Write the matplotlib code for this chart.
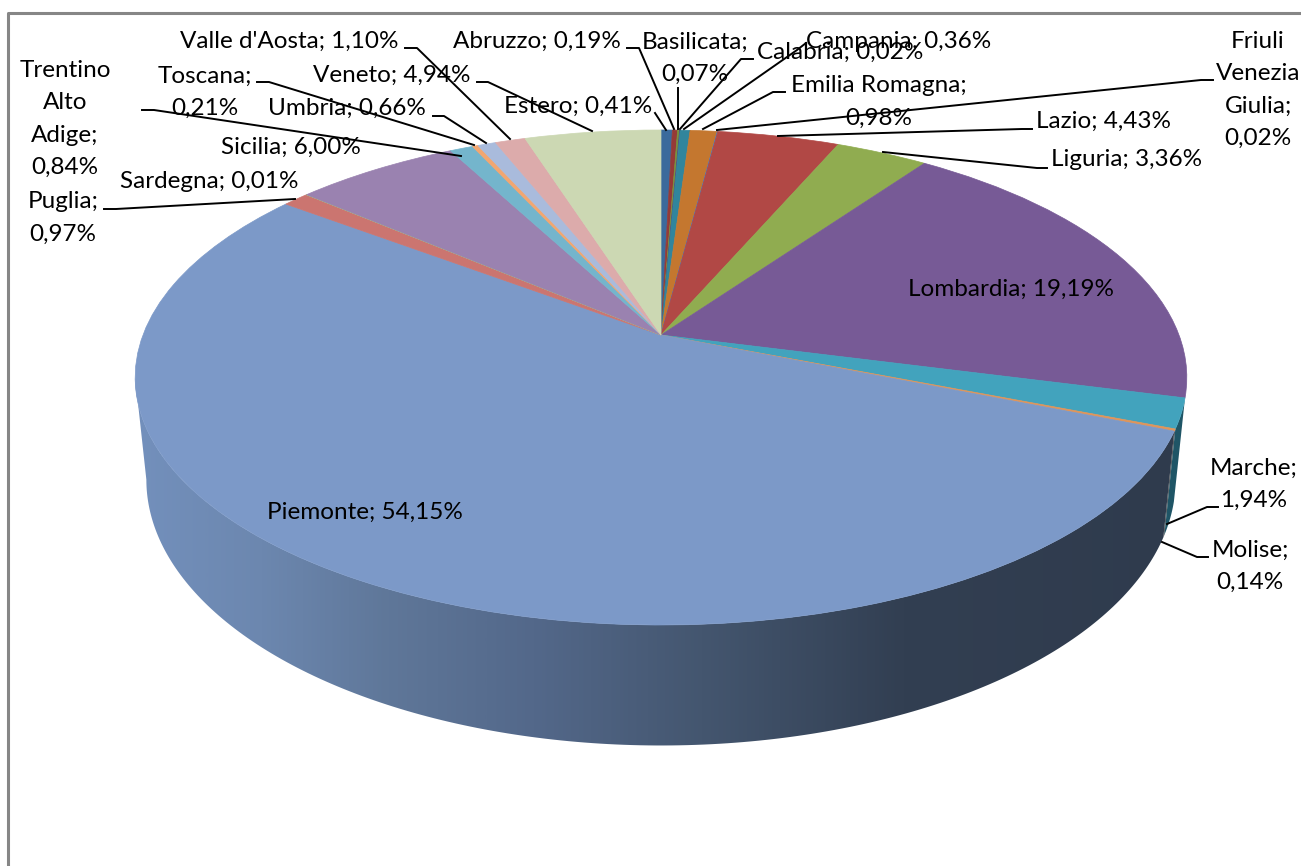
import numpy as np
from matplotlib import pyplot as plt
from matplotlib.colors import LinearSegmentedColormap
from matplotlib.patches import Polygon
from matplotlib.transforms import Transform

plt.rcParams['font.family'] = ['Lato', 'DejaVu Sans']

regions = ['Estero', 'Abruzzo', 'Basilicata', 'Calabria', 'Campania', 'Emilia Romagna',
           'Friuli Venezia Giulia', 'Lazio', 'Liguria', 'Lombardia', 'Marche', 'Molise',
           'Piemonte', 'Puglia', 'Sardegna', 'Sicilia', 'Trentino Alto Adige', 'Toscana',
           'Umbria', "Valle d'Aosta", 'Veneto']
shares = [0.41, 0.19, 0.07, 0.02, 0.36, 0.98, 0.02, 4.43, 3.36, 19.19, 1.94, 0.14,
          54.15, 0.97, 0.01, 6.00, 0.84, 0.21, 0.66, 1.10, 4.94]
colors = ['#3b6a9c', '#953a37', '#77933c', '#5f497a', '#31859c', '#c4772f', '#4f81bd',
          '#b14845', '#90ac50', '#775a96', '#42a3bd', '#e0955a', '#7c99c8', '#cb7570',
          '#b0c87a', '#9a82b0', '#74b5cc', '#f2a670', '#a9bbdc', '#dcabab', '#ccd8b3']
side_colors = {'Marche': '#1f5566', 'Molise': '#3a3f44'}

# label text as wrapped in the chart, name -> lines
wrapped = {'Basilicata': ['Basilicata;', None], 'Emilia Romagna': ['Emilia Romagna;', None],
           'Friuli Venezia Giulia': ['Friuli', 'Venezia', 'Giulia;', None],
           'Marche': ['Marche;', None], 'Molise': ['Molise;', None],
           'Puglia': ['Puglia;', None], 'Toscana': ['Toscana;', None],
           'Trentino Alto Adige': ['Trentino', 'Alto', 'Adige;', None]}

# label centre in pixels
label_pos = {'Estero': (578, 106), 'Abruzzo': (537, 41), 'Basilicata': (695, 58),
             'Calabria': (840, 52), 'Campania': (899, 42), 'Emilia Romagna': (879, 102),
             'Friuli Venezia Giulia': (1258, 90), 'Lazio': (1103, 121), 'Liguria': (1127, 159),
             'Lombardia': (1011, 289), 'Marche': (1254, 484), 'Molise': (1250, 566),
             'Piemonte': (365, 512), 'Puglia': (63, 218), 'Sardegna': (209, 181),
             'Sicilia': (291, 147), 'Trentino Alto Adige': (65, 119), 'Toscana': (205, 92),
             'Umbria': (347, 108), "Valle d'Aosta": (289, 41), 'Veneto': (392, 75)}

leaders = {'Estero': [(655, 113), (666, 130)],
           'Abruzzo': [(627, 48), (639, 48), (674, 129)],
           'Basilicata': [(678, 88), (678, 129)],
           'Calabria': [(753, 59), (741, 59), (680, 129)],
           'Campania': [(806, 43), (797, 50), (684, 129)],
           'Emilia Romagna': [(785, 92), (773, 92), (703, 129)],
           'Friuli Venezia Giulia': [(1213, 80), (1201, 80), (717, 130)],
           'Lazio': [(1032, 129), (1022, 129), (778, 136)],
           'Liguria': [(1047, 168), (1037, 168), (883, 152)],
           'Marche': [(1218, 507), (1207, 507), (1167, 524)],
           'Molise': [(1208, 557), (1197, 557), (1162, 542)],
           'Puglia': [(104, 209), (116, 209), (295, 199)],
           'Trentino Alto Adige': [(142, 110), (154, 110), (461, 156)],
           'Toscana': [(257, 82), (269, 82), (474, 145)],
           'Umbria': [(433, 116), (444, 116), (486, 143)],
           "Valle d'Aosta": [(405, 48), (417, 48), (510, 139)],
           'Veneto': [(477, 82), (488, 82), (592, 131)]}


class Perspective(Transform):
    # unit circle of the pie -> pixel coordinates of the tilted disc
    input_dims = 2
    output_dims = 2

    def __init__(self, x0, y0, rx, ry, q):
        super().__init__()
        self.x0, self.y0, self.rx, self.ry, self.q = x0, y0, rx, ry, q

    def transform_non_affine(self, values):
        values = np.asarray(values, dtype=float)
        den = 1 + self.q * values[:, 1]
        return np.column_stack([self.x0 + self.rx * values[:, 0] / den,
                                self.y0 - self.ry * values[:, 1] / den])


top = Perspective(661, 335, 518, 240.2, 0.1717)
bottom = Perspective(661, 434, 507, 258, 0.1717)

fig = plt.figure(figsize=(13.01, 8.66), dpi=100)
ax = fig.add_axes([0, 0, 1, 1])

wedges, _ = ax.pie(shares, colors=colors, startangle=90, counterclock=False,
                   wedgeprops=dict(linewidth=0.5))
for wedge, color in zip(wedges, colors):
    wedge.set_edgecolor(color)
    wedge.set_transform(top + ax.transData)
    wedge.set_zorder(3)

ax.set_aspect('auto')
ax.axis('off')

# side wall of the slices on the visible front, up to the left extreme of the disc
edges = np.cumsum([0] + shares) / sum(shares) * 2 * np.pi
left_extreme = 2 * np.pi - np.arccos(-top.q)
wall_cmap = LinearSegmentedColormap.from_list('wall', [
    (0.00, '#7390bc'), (0.12, '#6c87af'), (0.24, '#5f7799'), (0.38, '#53688a'),
    (0.54, '#44566f'), (0.73, '#323f52'), (1.00, '#2f3b4d')])
for name in ['Piemonte', 'Molise', 'Marche']:
    i = regions.index(name)
    angles = np.linspace(edges[i], min(edges[i + 1], left_extreme), 200)
    circle = np.column_stack([np.sin(angles), np.cos(angles)])
    outline = np.vstack([top.transform_non_affine(circle),
                         bottom.transform_non_affine(circle)[::-1]])
    if name == 'Piemonte':
        poly = Polygon(outline, closed=True, facecolor='none', edgecolor='none', zorder=1)
        ax.add_patch(poly)
        shade = ax.imshow(np.linspace(0, 1, 512)[None, :], cmap=wall_cmap, aspect='auto',
                          extent=(135, 1187, 866, 0), zorder=1)
        shade.set_clip_path(poly)
    else:
        ax.add_patch(Polygon(outline, closed=True, facecolor=side_colors[name],
                             edgecolor='none', zorder=2))
ax.set_xlim(0, 1301)
ax.set_ylim(866, 0)

# chart border only shows on the left and top
ax.plot([8, 8, 1301], [866, 13, 13], color='#868686', lw=2.2, zorder=6, clip_on=False)

for name, share in zip(regions, shares):
    value = f'{share:.2f}%'.replace('.', ',')
    if name in wrapped:
        text = '\n'.join(value if line is None else line for line in wrapped[name])
    else:
        text = f'{name}; {value}'
    x, y = label_pos[name]
    ax.text(x, y, text, ha='center', va='center', fontsize=17.5, color='#000000',
            linespacing=1.66, zorder=4)
    if name in leaders:
        xs, ys = zip(*leaders[name])
        ax.plot(xs, ys, color='#000000', lw=1.4, zorder=5, solid_joinstyle='round')

fig.savefig('out.png', dpi=100)
